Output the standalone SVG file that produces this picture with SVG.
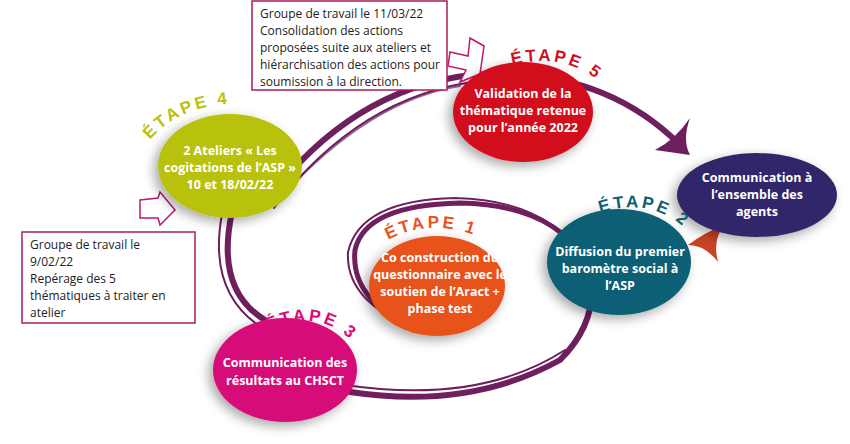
<svg xmlns="http://www.w3.org/2000/svg" width="850" height="444" viewBox="0 0 850 444">
<defs>
<filter id="sh" x="-30%" y="-30%" width="160%" height="160%"><feGaussianBlur in="SourceAlpha" stdDeviation="6"/><feOffset dx="-4" dy="4"/><feComponentTransfer><feFuncA type="linear" slope="0.35"/></feComponentTransfer><feMerge><feMergeNode/><feMergeNode in="SourceGraphic"/></feMerge></filter>
<path id="p4" d="M150,140 Q185,98 262,104"/>
<path id="p5" d="M512,65 Q570,50 608,90"/>
<path id="p1" d="M388,240 Q440,212 502,248"/>
<path id="p2" d="M600,213 Q655,195 692,235"/>
<path id="p3" d="M268,330 Q325,305 360,350"/>
</defs>
<style>
.n{font-family:"Open Sans","Liberation Sans",sans-serif;font-size:12.5px;font-weight:bold;fill:#fff;text-anchor:middle}
.b{font-family:"Open Sans","Liberation Sans",sans-serif;font-size:12px;fill:#222}
.et{font-family:"Liberation Sans",sans-serif;font-size:17px;font-weight:bold;letter-spacing:3px}
.sw{fill:none;stroke:#6e1f5e;stroke-linecap:round}
.box{fill:#fff;stroke:#b01a5c;stroke-width:1.5}
.ha{fill:#fff;stroke:#c0186a;stroke-width:1.5}
</style>
<g id="connectors">
<path class="sw" stroke-width="6" d="M268,200 Q350,90 470,75 Q600,65 680,145"/>
<path class="sw" stroke-width="2" d="M274,208 Q360,95 480,81"/>
<path class="sw" stroke-width="2" opacity="0.7" d="M282,196 Q370,100 460,86"/>
<path fill="#6e1f5e" d="M655,150 Q675,140 690,118 Q682,140 690,155 Z"/>
<path class="sw" stroke-width="6" d="M232,212 Q215,290 265,320"/>
<path class="sw" stroke-width="2" d="M222,214 Q208,290 258,325"/>
<path class="sw" stroke-width="6" d="M350,392 Q470,410 560,360 Q600,320 590,270"/>
<path class="sw" stroke-width="5" d="M590,270 Q560,205 460,203 Q365,205 355,250 Q350,300 415,328"/>
<path class="sw" stroke-width="2" d="M585,262 Q550,200 455,198 Q360,200 348,252 Q345,305 425,332"/>
<path class="sw" stroke-width="2" d="M345,385 Q480,405 565,350"/>
<path fill="#c84424" d="M688,245 Q705,232 725,225 Q712,238 718,262 Q705,245 688,245 Z"/>
<path class="ha" d="M450,52 L468,56 L470,38 L484,46 L480,74 L460,82 L466,70 L448,66 Z"/>
<path class="ha" d="M140,200 L158,198 L160,192 L175,210 L160,225 L158,218 L140,218 Z"/>
</g>
<g id="box5"><rect class="box" x="252" y="1" width="195" height="89"/>
<text class="b" x="260" y="18">Groupe de travail le 11/03/22</text>
<text class="b" x="260" y="35">Consolidation des actions</text>
<text class="b" x="260" y="52">proposées suite aux ateliers et</text>
<text class="b" x="260" y="69">hiérarchisation des actions pour</text>
<text class="b" x="260" y="86">soumission à la direction.</text></g>
<g id="box4"><rect class="box" x="22" y="232" width="173" height="91"/>
<text class="b" x="30" y="249">Groupe de travail le</text>
<text class="b" x="30" y="266">9/02/22</text>
<text class="b" x="30" y="283">Repérage des 5</text>
<text class="b" x="30" y="300">thématiques à traiter en</text>
<text class="b" x="30" y="317">atelier</text></g>
<g id="etape4"><ellipse cx="230" cy="166" rx="72" ry="52" fill="#b8c20a" filter="url(#sh)"/>
<text class="et" fill="#b8c20a"><textPath href="#p4">ÉTAPE 4</textPath></text>
<text class="n" x="230" y="155">2 Ateliers  « Les</text><text class="n" x="230" y="172">cogitations de l’ASP »</text><text class="n" x="230" y="189">10 et 18/02/22</text></g>
<g id="etape5"><ellipse cx="523" cy="112" rx="70" ry="50" fill="#d20f1e" filter="url(#sh)"/>
<text class="et" fill="#d20f1e"><textPath href="#p5">ÉTAPE 5</textPath></text>
<text class="n" x="523" y="98">Validation de la</text><text class="n" x="523" y="115">thématique  retenue</text><text class="n" x="523" y="132">pour l’année 2022</text></g>
<g id="comm"><ellipse cx="757" cy="195" rx="80" ry="42" fill="#33286a" filter="url(#sh)"/>
<text class="n" x="757" y="182">Communication à</text><text class="n" x="757" y="199">l’ensemble des</text><text class="n" x="757" y="216">agents</text></g>
<g id="etape1"><ellipse cx="437" cy="286" rx="68" ry="50" fill="#e8531c" filter="url(#sh)"/>
<text class="et" fill="#e8531c"><textPath href="#p1">ÉTAPE 1</textPath></text>
<text class="n" x="440" y="262">Co construction du</text><text class="n" x="440" y="279">questionnaire avec le</text><text class="n" x="440" y="296">soutien de l’Aract +</text><text class="n" x="440" y="313">phase test</text></g>
<g id="etape2"><ellipse cx="619" cy="262" rx="72" ry="53" fill="#0e5f74" filter="url(#sh)"/>
<text class="et" fill="#0e5f74"><textPath href="#p2">ÉTAPE 2</textPath></text>
<text class="n" x="620" y="256">Diffusion du premier</text><text class="n" x="620" y="273">baromètre social à</text><text class="n" x="620" y="290">l’ASP</text></g>
<g id="etape3"><ellipse cx="285" cy="370" rx="72" ry="52" fill="#d60c78" filter="url(#sh)"/>
<text class="et" fill="#d60c78"><textPath href="#p3">ÉTAPE 3</textPath></text>
<text class="n" x="285" y="367">Communication des</text><text class="n" x="285" y="385">résultats au CHSCT</text></g>
</svg>
